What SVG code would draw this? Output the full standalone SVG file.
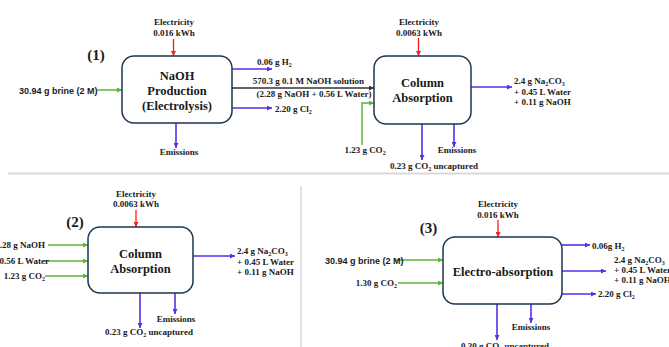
<svg xmlns="http://www.w3.org/2000/svg" width="669" height="347" viewBox="0 0 669 347">
<style>
.lb{font-family:"Liberation Serif","Times New Roman",serif;font-weight:bold;font-size:9px;fill:#1a1a1a}
.ar{font-family:"Liberation Sans",Arial,sans-serif;font-weight:bold;font-size:9px;fill:#1a1a1a}
.bt{font-family:"Liberation Serif","Times New Roman",serif;font-weight:bold;font-size:12.5px;fill:#1a1a1a;text-anchor:middle}
.num{font-family:"Liberation Serif","Times New Roman",serif;font-weight:bold;font-size:15px;fill:#1a1a1a;text-anchor:middle}
.c{text-anchor:middle}
.e{text-anchor:end}
.sb{font-size:6px}
.box{fill:#fff;stroke:#1d3552;stroke-width:1.5}
.r{stroke:#ff1a1a;stroke-width:1.3;fill:none;marker-end:url(#mr)}
.g{stroke:#5cb338;stroke-width:1.5;fill:none;marker-end:url(#mg)}
.p{stroke:#5a2de8;stroke-width:1.6;fill:none;marker-end:url(#mp)}
.k{stroke:#333;stroke-width:1.5;fill:none;marker-end:url(#mk)}
.sep{stroke:#d9d9d9;fill:none}
</style>
<defs>
<marker id="mr" viewBox="0 0 10 10" refX="10" refY="5" markerWidth="5" markerHeight="5" markerUnits="userSpaceOnUse" orient="auto"><path d="M0,0 L10,5 L0,10z" fill="#ff1a1a"/></marker>
<marker id="mg" viewBox="0 0 10 10" refX="10" refY="5" markerWidth="5" markerHeight="5" markerUnits="userSpaceOnUse" orient="auto"><path d="M0,0 L10,5 L0,10z" fill="#5cb338"/></marker>
<marker id="mp" viewBox="0 0 10 10" refX="10" refY="5" markerWidth="6" markerHeight="5" markerUnits="userSpaceOnUse" orient="auto"><path d="M0,0 L10,5 L0,10z" fill="#5a2de8"/></marker>
<marker id="mk" viewBox="0 0 10 10" refX="10" refY="5" markerWidth="6" markerHeight="5" markerUnits="userSpaceOnUse" orient="auto"><path d="M0,0 L10,5 L0,10z" fill="#333"/></marker>
</defs>
<rect width="669" height="347" fill="#fff"/>
<g id="separators">
<line class="sep" x1="8" y1="173.5" x2="669" y2="173.5" stroke-width="2"/>
<line class="sep" x1="301" y1="186" x2="301" y2="347" stroke-width="1.5"/>
</g>
<g id="connectors">
<line class="r" x1="173.5" y1="39" x2="173.5" y2="56"/>
<line class="g" x1="97" y1="90" x2="122" y2="90"/>
<line class="p" x1="176" y1="123" x2="176" y2="148"/>
<line class="p" x1="232" y1="69" x2="272" y2="69"/>
<line class="k" x1="232" y1="88" x2="374" y2="88"/>
<line class="p" x1="232" y1="108" x2="272" y2="108"/>
<line class="r" x1="418.5" y1="38" x2="418.5" y2="56"/>
<polyline class="g" points="362,145 362,103 374,103"/>
<line class="p" x1="422" y1="124" x2="422" y2="160"/>
<line class="p" x1="454" y1="124" x2="454" y2="147"/>
<line class="p" x1="471" y1="87" x2="512" y2="87"/>
<line class="r" x1="136" y1="210" x2="136" y2="227"/>
<line class="g" x1="48" y1="245" x2="88" y2="245"/>
<line class="g" x1="44" y1="261" x2="88" y2="261"/>
<line class="g" x1="45" y1="276" x2="88" y2="276"/>
<line class="p" x1="193" y1="256" x2="235" y2="256"/>
<line class="p" x1="140" y1="293" x2="140" y2="328"/>
<line class="p" x1="175" y1="293" x2="175" y2="314"/>
<line class="r" x1="498" y1="220" x2="498" y2="237"/>
<line class="g" x1="396" y1="260" x2="443" y2="260"/>
<line class="g" x1="398" y1="283" x2="443" y2="283"/>
<line class="p" x1="562" y1="245" x2="590" y2="245"/>
<line class="p" x1="562" y1="271" x2="606" y2="271"/>
<line class="p" x1="562" y1="294" x2="596" y2="294"/>
<line class="p" x1="497" y1="304" x2="497" y2="340"/>
<line class="p" x1="531" y1="304" x2="531" y2="323"/>
</g>
<g id="panel1-labels">
<text class="num" x="96" y="60">(1)</text>
<text class="lb c" x="174" y="25">Electricity</text>
<text class="lb c" x="174" y="36">0.016 kWh</text>
<text class="ar" x="19" y="93.5">30.94 g brine (2 M)</text>
<text class="lb c" x="179" y="155">Emissions</text>
<text class="lb" x="257" y="65">0.06 g H<tspan class="sb" dy="2">2</tspan></text>
<text class="lb c" x="308.5" y="84">570.3 g 0.1 M NaOH solution</text>
<text class="lb c" x="314" y="97">(2.28 g NaOH + 0.56 L Water)</text>
<text class="lb" x="275" y="112">2.20 g Cl<tspan class="sb" dy="2">2</tspan></text>
<text class="lb c" x="419" y="25">Electricity</text>
<text class="lb c" x="419" y="36">0.0063 kWh</text>
<text class="lb c" x="365" y="153">1.23 g CO<tspan class="sb" dy="2">2</tspan></text>
<text class="lb c" x="434" y="169">0.23 g CO<tspan class="sb" dy="2">2</tspan><tspan dy="-2"> uncaptured</tspan></text>
<text class="lb c" x="457" y="153">Emissions</text>
<text class="lb" x="514" y="84">2.4 g Na<tspan class="sb" dy="2">2</tspan><tspan dy="-2">CO</tspan><tspan class="sb" dy="2">3</tspan></text>
<text class="lb" x="514" y="95">+ 0.45 L Water</text>
<text class="lb" x="514" y="105">+ 0.11 g NaOH</text>
</g>
<g id="node-naoh-production">
<rect class="box" x="122" y="56" width="110" height="67" rx="12"/>
<text class="bt" x="177" y="80">NaOH</text>
<text class="bt" x="177" y="95">Production</text>
<text class="bt" x="177" y="110">(Electrolysis)</text>
</g>
<g id="node-column-absorption-1">
<rect class="box" x="374" y="56" width="97" height="68" rx="12"/>
<text class="bt" x="422.5" y="87">Column</text>
<text class="bt" x="422.5" y="102">Absorption</text>
</g>
<g id="panel2-labels">
<text class="num" x="75" y="227">(2)</text>
<text class="lb c" x="136" y="197">Electricity</text>
<text class="lb c" x="136" y="207">0.0063 kWh</text>
<text class="lb e" x="45" y="248">2.28 g NaOH</text>
<text class="lb e" x="49" y="264">0.56 L Water</text>
<text class="lb e" x="45" y="279">1.23 g CO<tspan class="sb" dy="2">2</tspan></text>
<text class="lb" x="237" y="254">2.4 g Na<tspan class="sb" dy="2">2</tspan><tspan dy="-2">CO</tspan><tspan class="sb" dy="2">3</tspan></text>
<text class="lb" x="237" y="264.5">+ 0.45 L Water</text>
<text class="lb" x="237" y="275">+ 0.11 g NaOH</text>
<text class="lb c" x="149" y="335">0.23 g CO<tspan class="sb" dy="2">2</tspan><tspan dy="-2"> uncaptured</tspan></text>
<text class="lb c" x="176" y="322">Emissions</text>
</g>
<g id="node-column-absorption-2">
<rect class="box" x="88" y="227" width="105" height="66" rx="12"/>
<text class="bt" x="140.5" y="258">Column</text>
<text class="bt" x="140.5" y="273">Absorption</text>
</g>
<g id="panel3-labels">
<text class="num" x="428.5" y="233">(3)</text>
<text class="lb c" x="498" y="207">Electricity</text>
<text class="lb c" x="498" y="218">0.016 kWh</text>
<text class="ar" x="325" y="263.5">30.94 g brine (2 M)</text>
<text class="lb e" x="397" y="286">1.30 g CO<tspan class="sb" dy="2">2</tspan></text>
<text class="lb" x="592" y="249">0.06g H<tspan class="sb" dy="2">2</tspan></text>
<text class="lb" x="614" y="263">2.4 g Na<tspan class="sb" dy="2">2</tspan><tspan dy="-2">CO</tspan><tspan class="sb" dy="2">3</tspan></text>
<text class="lb" x="614" y="273">+ 0.45 L Water</text>
<text class="lb" x="614" y="283">+ 0.11 g NaOH</text>
<text class="lb" x="598" y="297">2.20 g Cl<tspan class="sb" dy="2">2</tspan></text>
<text class="lb c" x="505" y="349">0.30 g CO<tspan class="sb" dy="2">2</tspan><tspan dy="-2"> uncaptured</tspan></text>
<text class="lb c" x="531" y="330">Emissions</text>
</g>
<g id="node-electro-absorption">
<rect class="box" x="443" y="237" width="119" height="67" rx="12"/>
<text class="bt" x="503" y="276">Electro-absorption</text>
</g>
</svg>
